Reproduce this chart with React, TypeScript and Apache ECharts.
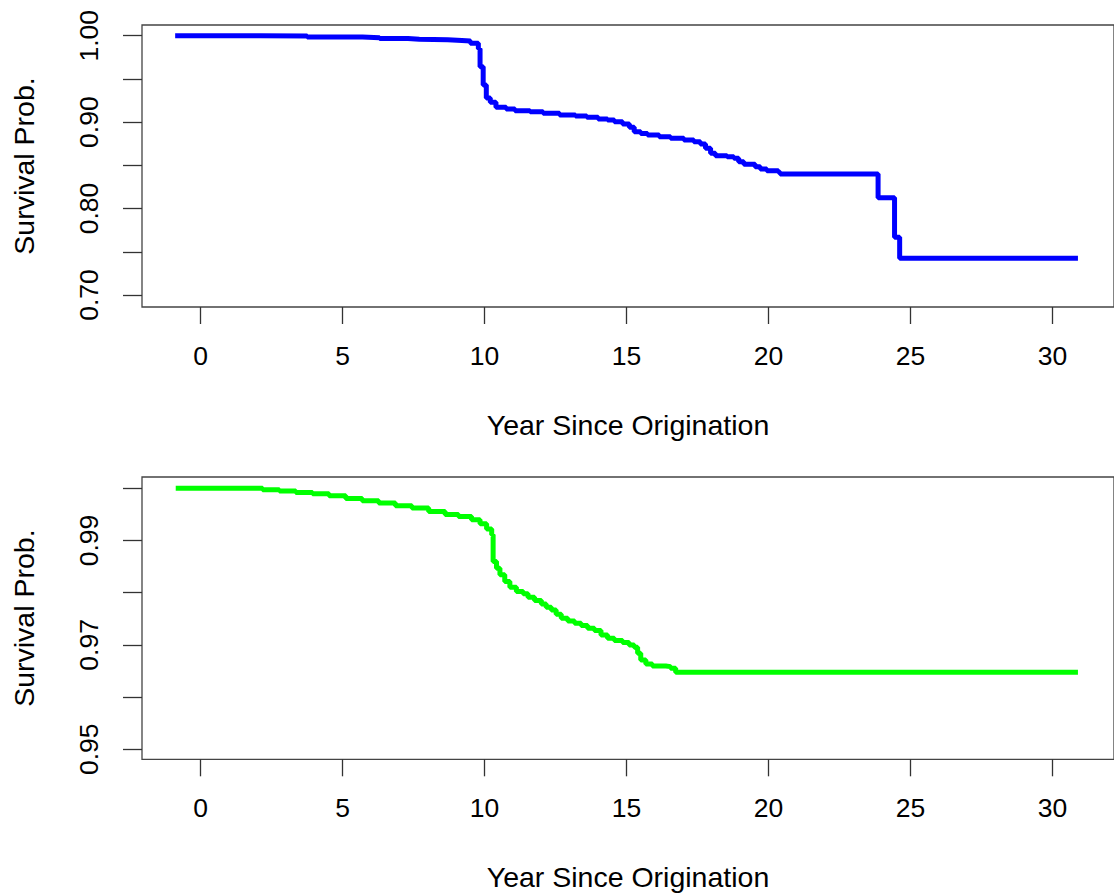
import React, { useEffect, useRef } from "react";
import * as echarts from "echarts";

// ---- Data ----
const xTicks = [0, 5, 10, 15, 20, 25, 30];
const topYTicks = [0.7, 0.75, 0.8, 0.85, 0.9, 0.95, 1.0];
const topYLabels = [0.7, 0.8, 0.9, 1.0];
const bottomYTicks = [0.95, 0.96, 0.97, 0.98, 0.99, 1.0];
const bottomYLabels = [0.95, 0.97, 0.99];

const xTitle = "Year Since Origination";
const yTitle = "Survival Prob.";

// Top panel (blue) Kaplan-Meier steps
const blueTime = [
  -0.9, 2.1, 3.75, 5.7, 6.3, 7.3, 7.7, 8.7, 9.2, 9.5, 9.78, 9.84, 9.95, 10.06,
  10.2, 10.4, 10.76, 11.07, 11.6, 12.06, 12.64, 13.2, 13.6, 14.0, 14.33, 14.57,
  14.86, 15.1, 15.27, 15.5, 15.74, 16.15, 16.55, 17.02, 17.37, 17.6, 17.78,
  17.96, 18.13, 18.54, 18.78, 18.95, 19.13, 19.53, 19.71, 19.94, 20.35, 20.41,
  23.86, 24.44, 24.62, 30.9,
];
const blueSurv = [
  1.0, 0.9997, 0.9985, 0.9977, 0.9967, 0.996, 0.9952, 0.9944, 0.9939, 0.9912,
  0.985, 0.964, 0.943, 0.928, 0.923, 0.9172, 0.9152, 0.9132, 0.912, 0.9102,
  0.9083, 0.9071, 0.9056, 0.9036, 0.9025, 0.9005, 0.8978, 0.894, 0.8889, 0.887,
  0.8851, 0.8832, 0.8813, 0.8793, 0.8774, 0.8747, 0.8697, 0.864, 0.8612, 0.86,
  0.8581, 0.8542, 0.8512, 0.8485, 0.8458, 0.8438, 0.842, 0.84, 0.8126, 0.7668,
  0.7425, 0.7425,
];

// Bottom panel (green) Kaplan-Meier steps
const greenTime = [
  -0.88, 2.18, 2.77, 3.35, 3.94, 4.52, 5.11, 5.69, 6.27, 6.86, 7.44, 8.03, 8.61,
  9.08, 9.54, 9.84, 10.07, 10.25, 10.3, 10.42, 10.54, 10.71, 10.89, 11.12,
  11.36, 11.53, 11.76, 12.0, 12.17, 12.35, 12.52, 12.7, 12.93, 13.17, 13.4,
  13.63, 13.87, 14.1, 14.33, 14.57, 14.86, 15.09, 15.27, 15.39, 15.5, 15.68,
  15.91, 16.38, 16.55, 16.73, 30.9,
];
const greenSurv = [
  1.0, 0.99972, 0.99947, 0.9992, 0.99895, 0.99857, 0.99805, 0.99761, 0.99717,
  0.99665, 0.99621, 0.99556, 0.99499, 0.9946, 0.99397, 0.9932, 0.99219,
  0.99109, 0.98597, 0.98471, 0.98342, 0.98214, 0.98106, 0.98022, 0.97978,
  0.97915, 0.9785, 0.97786, 0.97723, 0.97671, 0.97589, 0.97512, 0.9746,
  0.97416, 0.9737, 0.9732, 0.97274, 0.97192, 0.97128, 0.97082, 0.97044, 0.97,
  0.96956, 0.96841, 0.96712, 0.96636, 0.96597, 0.96584, 0.96553, 0.96476,
  0.96476,
];

const FONT = "'Liberation Sans', Arial, Helvetica, sans-serif";
const INK = "#000";
const TICK_STYLE = { color: "#333", width: 1.3 };

function xAxis(gridIndex: number) {
  return {
    type: "value",
    gridIndex,
    min: -2.068,
    max: 32.17,
    axisLine: { show: false, onZero: false },
    splitLine: { show: false },
    axisTick: { show: true, length: 17, customValues: xTicks, lineStyle: TICK_STYLE },
    axisLabel: {
      show: true,
      customValues: xTicks,
      margin: 36,
      fontSize: 26.5,
      lineHeight: 26,
      fontFamily: FONT,
      color: INK,
    },
    name: xTitle,
    nameLocation: "middle",
    nameGap: 103,
    nameTextStyle: { fontSize: 28.5, fontFamily: FONT, color: INK },
  };
}

function yAxis(gridIndex: number, min: number, max: number, ticks: number[], labels: number[]) {
  return {
    type: "value",
    gridIndex,
    min,
    max,
    axisLine: { show: false, onZero: false },
    splitLine: { show: false },
    axisTick: { show: true, length: 19, customValues: ticks, lineStyle: TICK_STYLE },
    axisLabel: {
      show: true,
      customValues: labels,
      rotate: 90,
      margin: 40,
      fontSize: 26.5,
      lineHeight: 26,
      fontFamily: FONT,
      color: INK,
      formatter: (v: number) => v.toFixed(2),
    },
    name: yTitle,
    nameLocation: "middle",
    nameGap: 104,
    nameRotate: 90,
    nameTextStyle: { fontSize: 28.5, fontFamily: FONT, color: INK },
  };
}

export default function App() {
  const ref = useRef<HTMLDivElement>(null);

  useEffect(() => {
    if (!ref.current) return;
    const chart = echarts.init(ref.current, undefined, { renderer: "svg" });
    const gridBase = {
      show: true,
      left: 142,
      width: 977,
      borderColor: "#444",
      borderWidth: 1.3,
      backgroundColor: "transparent",
      containLabel: false,
    };
    chart.setOption({
      animation: false,
      backgroundColor: "#fff",
      grid: [
        { ...gridBase, top: 25, height: 282 },
        { ...gridBase, top: 477, height: 282.3 },
      ],
      xAxis: [xAxis(0), xAxis(1)],
      yAxis: [
        yAxis(0, 0.6861, 1.0124, topYTicks, topYLabels),
        yAxis(1, 0.94808, 1.00217, bottomYTicks, bottomYLabels),
      ],
      series: [
        {
          type: "line",
          xAxisIndex: 0,
          yAxisIndex: 0,
          step: "end",
          symbol: "none",
          silent: true,
          data: blueTime.map((t, i) => [t, blueSurv[i]]),
          lineStyle: { color: "#0000FF", width: 5 },
        },
        {
          type: "line",
          xAxisIndex: 1,
          yAxisIndex: 1,
          step: "end",
          symbol: "none",
          silent: true,
          data: greenTime.map((t, i) => [t, greenSurv[i]]),
          lineStyle: { color: "#00FF00", width: 5 },
        },
      ],
    });
    return () => chart.dispose();
  }, []);

  return (
    <div
      ref={ref}
      style={{ position: "fixed", left: 0, top: 0, width: 1114, height: 896, background: "#fff" }}
    />
  );
}
